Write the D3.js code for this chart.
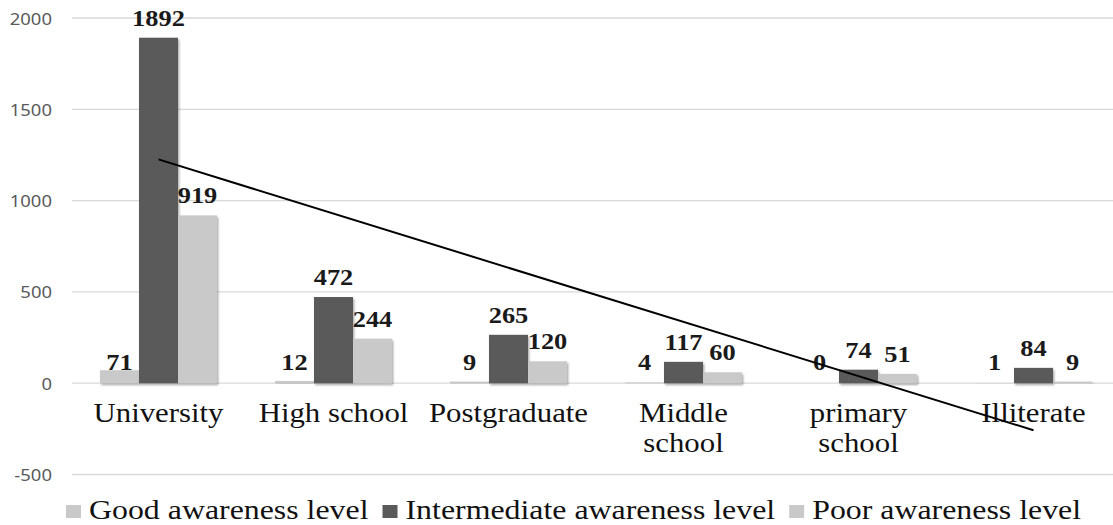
<!DOCTYPE html>
<html>
<head>
<meta charset="utf-8">
<script src="https://cdn.jsdelivr.net/npm/d3@7/dist/d3.min.js"></script>
<style>
  html, body { margin: 0; padding: 0; background: #fff; }
  svg { display: block; }
</style>
</head>
<body>
<svg id="chart" width="1113" height="525"></svg>
<script>
// Awareness level counts by education level
const categories = ["University", "High school", "Postgraduate", "Middle school", "primary school", "Illiterate"];
const categoryLines = [["University"], ["High school"], ["Postgraduate"], ["Middle", "school"], ["primary", "school"], ["Illiterate"]];
const seriesNames = ["Good awareness level", "Intermediate awareness level", "Poor awareness level"];
const goodValues = [71, 12, 9, 4, 0, 1];
const intermediateValues = [1892, 472, 265, 117, 74, 84];
const poorValues = [919, 244, 120, 60, 51, 9];
const yTicks = [-500, 0, 500, 1000, 1500, 2000];

const seriesValues = [goodValues, intermediateValues, poorValues];
const seriesColors = ["#c9c9c9", "#5a5a5a", "#c9c9c9"];

const svg = d3.select("#chart");
const SX = 1.1; // horizontal text stretch

const x0 = d3.scaleBand().domain(categories).range([71, 1121]).padding(0);
const x1 = d3.scaleBand().domain(seriesNames).range([29, 146]).padding(0);
const y = d3.scaleLinear().domain([-500, 2000]).range([474.5, 18]);

const defs = svg.append("defs");
const shadow = defs.append("filter").attr("id", "barShadow")
  .attr("x", "-20%").attr("y", "-20%").attr("width", "150%").attr("height", "150%");
shadow.append("feDropShadow").attr("dx", 1.2).attr("dy", 1.8)
  .attr("stdDeviation", 1.2).attr("flood-color", "#000").attr("flood-opacity", 0.35);

function stretchedText(g, x, yPos, str, sx) {
  return g.append("text")
    .attr("transform", `translate(${x},${yPos}) scale(${sx},1)`)
    .text(str);
}

// Gridlines and y tick labels
const yAxis = svg.append("g");
yTicks.forEach(t => {
  yAxis.append("line")
    .attr("x1", 72).attr("x2", 1113)
    .attr("y1", y(t)).attr("y2", y(t))
    .attr("stroke", "#d9d9d9").attr("stroke-width", 1.3);
  stretchedText(yAxis, 52, y(t), String(t), 1.12)
    .attr("text-anchor", "end")
    .attr("dominant-baseline", "central")
    .attr("font-family", "'Noto Sans', 'Open Sans', sans-serif")
    .attr("font-size", 16.5)
    .attr("fill", "#595959");
});

// Bars
const barsG = svg.append("g");
categories.forEach((c, ci) => {
  seriesNames.forEach((s, si) => {
    const v = seriesValues[si][ci];
    barsG.append("rect")
      .attr("x", x0(c) + x1(s))
      .attr("y", y(Math.max(0, v)))
      .attr("width", x1.bandwidth())
      .attr("height", Math.abs(y(v) - y(0)))
      .attr("fill", seriesColors[si])
      .attr("filter", "url(#barShadow)");
  });
});

// Category labels
const catG = svg.append("g")
  .attr("font-family", "'Liberation Serif', 'Times New Roman', serif")
  .attr("font-size", 28)
  .attr("fill", "#111")
  .attr("text-anchor", "middle");
categories.forEach((c, ci) => {
  const cx = x0(c) + x0.bandwidth() / 2;
  categoryLines[ci].forEach((line, li) => {
    stretchedText(catG, cx, 422 + li * 30, line, SX);
  });
});

// Data labels
const lblG = svg.append("g")
  .attr("font-family", "'Liberation Serif', 'Times New Roman', serif")
  .attr("font-weight", "bold")
  .attr("font-size", 24)
  .attr("fill", "#1a1a1a")
  .attr("text-anchor", "middle");
categories.forEach((c, ci) => {
  seriesNames.forEach((s, si) => {
    const v = seriesValues[si][ci];
    const cx = x0(c) + x1(s) + x1.bandwidth() / 2;
    const by = si === 0 ? y(0) - 13 : y(v) - 12;
    stretchedText(lblG, cx, by, String(v), SX);
  });
});

// Linear trend line fitted to the intermediate series
const xs = intermediateValues.map((d, i) => i + 1);
const mx = d3.mean(xs), my = d3.mean(intermediateValues);
const slope = d3.sum(xs, (xv, i) => (xv - mx) * (intermediateValues[i] - my)) /
              d3.sum(xs, xv => (xv - mx) * (xv - mx));
const intercept = my - slope * mx;
const trendPts = [0, categories.length - 1].map(i => [
  x0(categories[i]) + x0.bandwidth() / 2,
  y(intercept + slope * (i + 1))
]);
svg.append("path")
  .attr("d", d3.line()(trendPts))
  .attr("stroke", "#000").attr("stroke-width", 2).attr("fill", "none");

// Legend
const LSX = 1.138;
const legG = svg.append("g")
  .attr("font-family", "'Liberation Serif', 'Times New Roman', serif")
  .attr("font-size", 28)
  .attr("fill", "#111");
let lx = 66;
seriesNames.forEach((s, si) => {
  legG.append("rect")
    .attr("x", lx).attr("y", 505)
    .attr("width", 15).attr("height", 13)
    .attr("fill", seriesColors[si]);
  lx += 15 + 8;
  const t = stretchedText(legG, lx, 518.5, s, LSX);
  lx += t.node().getComputedTextLength() * LSX + 14;
});
</script>
</body>
</html>
